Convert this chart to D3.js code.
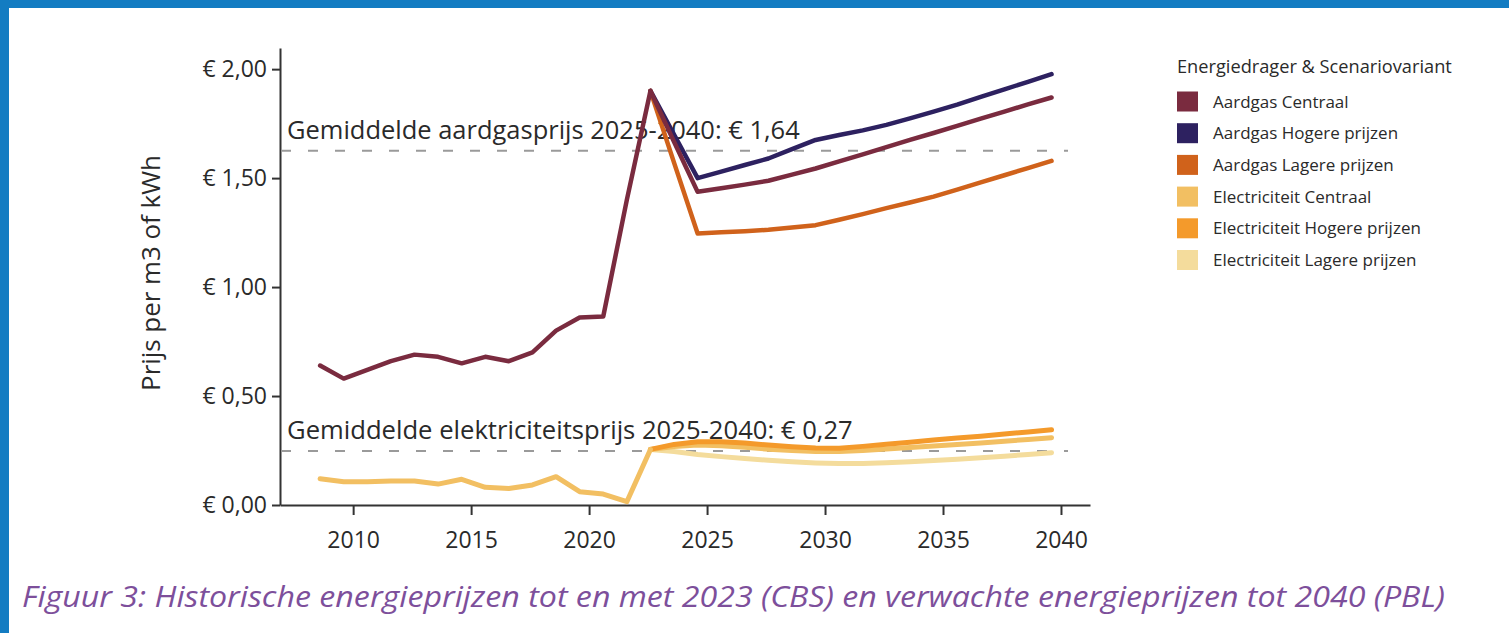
<!DOCTYPE html>
<html>
<head>
<meta charset="utf-8">
<script src="https://cdn.jsdelivr.net/npm/d3@7"></script>
<style>
  body { margin: 0; background: #fff; }
  svg { display: block; font-family: 'Open Sans', sans-serif; }
</style>
</head>
<body>
<svg id="chart"></svg>
<script>
// historische reeksen (CBS)
var histYears = [2009, 2010, 2011, 2012, 2013, 2014, 2015, 2016, 2017, 2018, 2019, 2020, 2021, 2022, 2023];
var gasHist = [0.64, 0.58, 0.62, 0.66, 0.69, 0.68, 0.65, 0.68, 0.66, 0.70, 0.80, 0.86, 0.865, 1.40, 1.90];
var elecHist = [0.12, 0.107, 0.107, 0.11, 0.11, 0.096, 0.118, 0.081, 0.076, 0.092, 0.13, 0.061, 0.05, 0.015, 0.255];

// verwachtingen (PBL)
var projYears = [2023, 2024, 2025, 2026, 2027, 2028, 2029, 2030, 2031, 2032, 2033, 2034, 2035, 2036, 2037, 2038, 2039, 2040];
var gasCentraal = [1.90, 1.667, 1.437, 1.453, 1.47, 1.488, 1.516, 1.544, 1.577, 1.609, 1.642, 1.675, 1.707, 1.74, 1.773, 1.805, 1.838, 1.87];
var gasHogere = [1.90, 1.70, 1.50, 1.53, 1.56, 1.59, 1.633, 1.675, 1.698, 1.719, 1.744, 1.774, 1.805, 1.837, 1.873, 1.907, 1.942, 1.977];
var gasLagere = [1.90, 1.571, 1.246, 1.251, 1.256, 1.263, 1.273, 1.284, 1.309, 1.335, 1.362, 1.388, 1.415, 1.447, 1.48, 1.513, 1.546, 1.579];
var elecCentraal = [0.255, 0.268, 0.275, 0.272, 0.265, 0.256, 0.25, 0.246, 0.246, 0.25, 0.257, 0.264, 0.271, 0.278, 0.285, 0.293, 0.301, 0.309];
var elecHogere = [0.255, 0.278, 0.29, 0.29, 0.284, 0.275, 0.267, 0.261, 0.26, 0.269, 0.279, 0.288, 0.298, 0.307, 0.316, 0.326, 0.335, 0.345];
var elecLagere = [0.255, 0.245, 0.232, 0.222, 0.213, 0.205, 0.198, 0.193, 0.19, 0.19, 0.194, 0.199, 0.204, 0.21, 0.217, 0.224, 0.232, 0.24];

var avgValues = [1.625, 0.248];
var avgLabels = ['Gemiddelde aardgasprijs 2025-2040: € 1,64', 'Gemiddelde elektriciteitsprijs 2025-2040: € 0,27'];

var legendNames = ['Aardgas Centraal', 'Aardgas Hogere prijzen', 'Aardgas Lagere prijzen',
  'Electriciteit Centraal', 'Electriciteit Hogere prijzen', 'Electriciteit Lagere prijzen'];
var legendColors = ['#7a2b3f', '#2d2160', '#d0621b', '#f2bf62', '#f49a2b', '#f4dc9c'];

var xTicks = [2010, 2015, 2020, 2025, 2030, 2035, 2040];
var yTicks = [0, 0.5, 1, 1.5, 2];

var width = 1509, height = 633;
var textColor = '#2a2a2a';
var yearShift = -0.4; // jaargemiddelden staan net voor de jaarstreep

var svg = d3.select('#chart').attr('width', width).attr('height', height);

// blauwe rand
svg.append('rect').attr('x', 0).attr('y', 0).attr('width', width).attr('height', 8).attr('fill', '#137cc2');
svg.append('rect').attr('x', 0).attr('y', 0).attr('width', 9).attr('height', height).attr('fill', '#137cc2');

var x = d3.scaleLinear().domain([2006.9, 2041.23]).range([280, 1090]);
var y = d3.scaleLinear().domain([0, 2.097]).range([505, 48]);

function fit(sel, w) {
  var fs = parseFloat(sel.attr('font-size'));
  var l = sel.node().getComputedTextLength();
  sel.attr('font-size', fs * w / l);
}

var nl = d3.formatLocale({decimal: ',', thousands: '.', grouping: [3], currency: ['€ ', '']});

// assen
var yAxis = svg.append('g')
  .attr('transform', 'translate(280,0)')
  .call(d3.axisLeft(y).tickValues(yTicks).tickSize(8).tickSizeOuter(0).tickPadding(5).tickFormat(nl.format('$.2f')));
var xAxis = svg.append('g')
  .attr('transform', 'translate(0,505)')
  .call(d3.axisBottom(x).tickValues(xTicks).tickSize(10).tickSizeOuter(0).tickPadding(17).tickFormat(function(d) { return d; }));

[yAxis, xAxis].forEach(function(g) {
  g.select('.domain').attr('stroke', '#333').attr('stroke-width', 2);
  g.selectAll('.tick line').attr('stroke', '#333').attr('stroke-width', 2);
  g.selectAll('.tick text').attr('fill', textColor).attr('font-size', 23).attr('font-family', "'Open Sans', sans-serif");
});

svg.append('text')
  .attr('transform', 'translate(160,273) rotate(-90)')
  .attr('text-anchor', 'middle')
  .attr('fill', textColor)
  .attr('font-size', 20)
  .text('Prijs per m3 of kWh')
  .call(fit, 236);

// gemiddelde lijnen
avgValues.forEach(function(v, i) {
  svg.append('line')
    .attr('x1', 281).attr('x2', 1068)
    .attr('y1', y(v)).attr('y2', y(v))
    .attr('stroke', '#9a9a9a').attr('stroke-width', 2)
    .attr('stroke-dasharray', '10,17');
  svg.append('text')
    .attr('x', 287).attr('y', y(v) - 12)
    .attr('fill', textColor)
    .attr('font-size', 20)
    .text(avgLabels[i])
    .call(fit, i == 0 ? 513 : 566);
});

var line = d3.line()
  .x(function(d) { return x(d[0] + yearShift); })
  .y(function(d) { return y(d[1]); });

function pairs(years, vals) {
  return years.map(function(yr, i) { return [yr, vals[i]]; });
}

var series = [
  {data: pairs(projYears, elecLagere), color: legendColors[5], w: 5},
  {data: pairs(projYears, elecCentraal), color: legendColors[3], w: 5},
  {data: pairs(projYears, elecHogere), color: legendColors[4], w: 5},
  {data: pairs(histYears, elecHist), color: legendColors[3], w: 5},
  {data: pairs(projYears, gasHogere), color: legendColors[1], w: 4.5},
  {data: pairs(projYears, gasLagere), color: legendColors[2], w: 4.5},
  {data: pairs(projYears, gasCentraal), color: legendColors[0], w: 4.5},
  {data: pairs(histYears, gasHist), color: legendColors[0], w: 4.5}
];

svg.append('g').selectAll('path')
  .data(series)
  .join('path')
  .attr('d', function(s) { return line(s.data); })
  .attr('fill', 'none')
  .attr('stroke', function(s) { return s.color; })
  .attr('stroke-width', function(s) { return s.w; })
  .attr('stroke-linejoin', 'round')
  .attr('stroke-linecap', 'round');

// legenda
var legend = svg.append('g');
legend.append('text')
  .attr('x', 1177).attr('y', 73)
  .attr('fill', textColor)
  .attr('font-size', 16)
  .text('Energiedrager & Scenariovariant')
  .call(fit, 275);

var items = legend.selectAll('g.item')
  .data(legendNames)
  .join('g')
  .attr('class', 'item')
  .attr('transform', function(d, i) { return 'translate(1177,' + (91.5 + i * 31.7) + ')'; });

items.append('rect')
  .attr('width', 21).attr('height', 20)
  .attr('fill', function(d, i) { return legendColors[i]; });

items.append('text')
  .attr('x', 36).attr('y', 16)
  .attr('fill', textColor)
  .attr('font-size', 17)
  .text(function(d) { return d; });

// onderschrift
svg.append('text')
  .attr('x', 22).attr('y', 607)
  .attr('fill', '#7d4f9b')
  .attr('font-size', 30)
  .attr('font-style', 'italic')
  .attr('font-weight', 500)
  .attr('textLength', 1423)
  .attr('lengthAdjust', 'spacingAndGlyphs')
  .text('Figuur 3: Historische energieprijzen tot en met 2023 (CBS) en verwachte energieprijzen tot 2040 (PBL)');
</script>
</body>
</html>
